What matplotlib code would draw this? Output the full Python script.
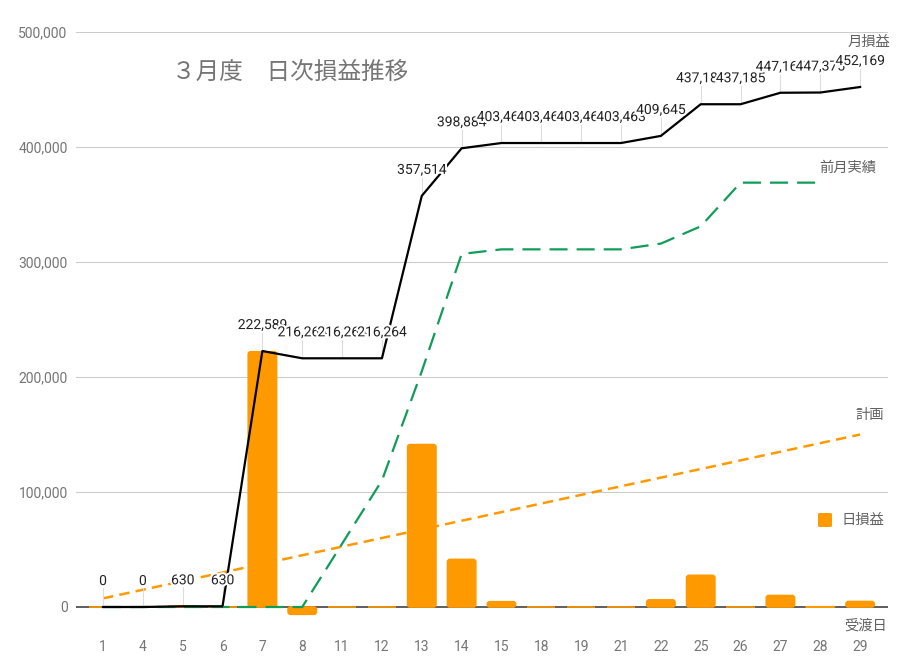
import numpy as np
import matplotlib
matplotlib.use("Agg")
import matplotlib.pyplot as plt
from matplotlib.patches import FancyBboxPatch
import matplotlib.patheffects as pe

plt.rcParams["font.family"] = ["Roboto", "Noto Sans CJK JP", "DejaVu Sans"]
plt.rcParams["lines.scale_dashes"] = False

# --- data -------------------------------------------------------------
days = ["1", "4", "5", "6", "7", "8", "11", "12", "13", "14",
        "15", "18", "19", "21", "22", "25", "26", "27", "28", "29"]
daily_pl = [0, 0, 630, 0, 221959, -6325, 0, 0, 141250, 41370,
            4579, 0, 0, 0, 6182, 27540, 0, 9980, 210, 4794]
prev_month = [0, 0, 0, 0, 0, 0, 55000, 110000, 205000, 307000,
              311000, 311000, 311000, 311000, 316000, 331000, 369000, 369000, 369000, np.nan]
plan = [7500, 15000, 22500, 30000, 37500, 45000, 52500, 60000, 67500, 75000,
        82500, 90000, 97500, 105000, 112500, 120000, 127500, 135000, 142500, 150000]
y_ticks = [0, 100000, 200000, 300000, 400000, 500000]

cum_pl = np.cumsum(daily_pl)

# --- layout (pixel based) --------------------------------------------
W, H = 913, 668
L, R, T, B = 76, 888, 32, 630
fig = plt.figure(figsize=(W / 100, H / 100), dpi=100)
ax = fig.add_axes([L / W, 1 - B / H, (R - L) / W, (B - T) / H])
x = np.arange(len(days))
xmin, xmax = -0.6775, 19.70
ymin, ymax = -20000, 500000
ax.set_xlim(xmin, xmax)
ax.set_ylim(ymin, ymax)
px_x = (R - L) / (xmax - xmin)
px_y = (B - T) / (ymax - ymin)

for s in ax.spines.values():
    s.set_visible(False)

# grid and baseline
for yv in y_ticks[1:]:
    ax.axhline(yv, color="#cccccc", lw=0.8, zorder=0)
ax.axhline(0, color="#333333", lw=1.1, zorder=1)

# daily bars with slightly rounded corners
bar_color = "#ff9900"
bw = 0.71
aspect = px_x / px_y
r0 = 2.5 / px_x
for xi, v in zip(x, daily_pl):
    y0 = min(0, v)
    h = abs(v)
    r = min(r0, (h / aspect) / 2, bw / 2)
    style = f"round,pad=0,rounding_size={r}" if r > 1e-4 else "square,pad=0"
    patch = FancyBboxPatch((xi - bw / 2, y0), bw, h, boxstyle=style,
                           mutation_aspect=aspect, facecolor=bar_color,
                           edgecolor=bar_color, lw=1.2, zorder=2)
    ax.add_patch(patch)

# lines
ax.plot(x, plan, color="#ff9900", lw=1.8, dashes=(7.5, 4.5), zorder=3)
ax.plot(x, prev_month, color="#0f9d58", lw=1.6, dashes=(13, 6.5), zorder=3)
ax.plot(x, cum_pl, color="black", lw=1.6, zorder=4)

# value annotations with stems
stem_len = 19 / px_y
for xi, v in zip(x, cum_pl):
    ax.plot([xi, xi], [v, v + stem_len], color="#dddddd", lw=0.8, zorder=3.5)
for xi, v in zip(x, cum_pl):
    ax.annotate(f"{v:,}", (xi, v), xytext=(0, 18.7), textcoords="offset points",
                ha="center", va="center", fontsize=10, color="#222222", zorder=6,
                path_effects=[pe.withStroke(linewidth=3, foreground="white")])

# axes ticks
ax.set_xticks(x)
ax.set_xticklabels(days)
ax.set_yticks(y_ticks)
ax.set_yticklabels([f"{v:,}" for v in y_ticks])
ax.tick_params(axis="both", length=0, colors="#757575", labelsize=10)
ax.tick_params(axis="y", pad=6)
ax.tick_params(axis="x", pad=7)

# text elements
def ftext(px, py, s, **kw):
    fig.text(px / W, 1 - py / H, s, **kw)

ftext(172, 72, "３月度　日次損益推移", fontsize=17, color="#757575", va="center", ha="left")
ftext(890, 42, "月損益", fontsize=10.3, color="#616161", va="center", ha="right")
ftext(876, 168, "前月実績", fontsize=10.3, color="#616161", va="center", ha="right")
ftext(884, 415, "計画", fontsize=10.3, color="#616161", va="center", ha="right")
ftext(887, 626, "受渡日", fontsize=10.3, color="#616161", va="center", ha="right")

# legend
fig.add_artist(FancyBboxPatch((818 / W, 1 - 527 / H), 14 / W, 14 / H,
                              boxstyle="round,pad=0,rounding_size=0.002",
                              transform=fig.transFigure, facecolor=bar_color,
                              edgecolor="none"))
ftext(841, 520, "日損益", fontsize=10.3, color="#616161", va="center", ha="left")

fig.savefig("out.png", dpi=100)
